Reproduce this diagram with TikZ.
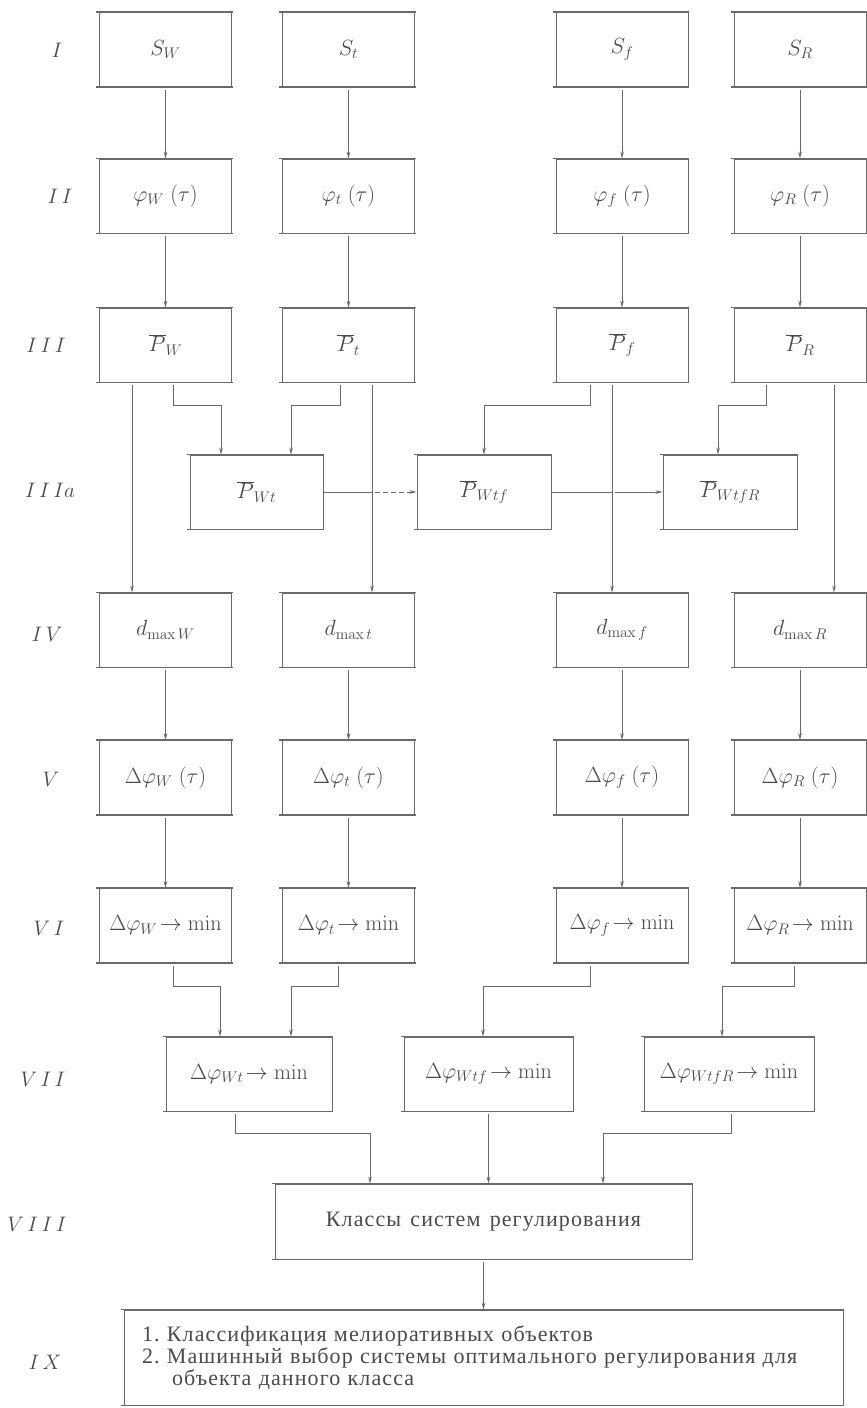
\RequirePackage{fix-cm}
\documentclass[tikz,border=0pt]{standalone}
\usepackage[no-math]{fontspec}
\newfontfamily\rus[LetterSpace=5,WordSpace=1.4]{Liberation Serif}
\usetikzlibrary{arrows.meta}
\definecolor{ink}{HTML}{6A6A6A}
\definecolor{txt}{HTML}{4A4A4A}
\tikzset{
  blk/.style={draw=ink, line width=0.8pt, minimum width=132pt, minimum height=74pt,
    inner sep=0pt, text=txt, font=\fontsize{22}{26}\selectfont},
  hbar/.style={draw=ink, line width=1.5pt},
  conn/.style={draw=ink, line width=0.8pt, shorten <=3pt, -{Stealth[length=7pt,width=3.6pt]}},
  wire/.style={draw=ink, line width=0.8pt, shorten <=3pt},
  dwire/.style={draw=ink, line width=0.8pt, dashed, dash pattern=on 5pt off 3pt, -{Stealth[length=7pt,width=3.6pt]}},
  lbl/.style={text=txt, font=\fontsize{21}{24}\selectfont},
  rtext/.style={text=txt, font=\rus\fontsize{22}{21.8}\selectfont},
}
\newcommand\hbars[1]{\draw[hbar] ([xshift=-3pt]#1.north west) -- ([xshift=1pt]#1.north east)
  ([xshift=-3pt]#1.south west) -- ([xshift=1pt]#1.south east);}
\begin{document}
\begin{tikzpicture}[x=1pt,y=-1pt]
\fill[white] (0,0) rectangle (867,1408);
\useasboundingbox (0,0) rectangle (867,1408);

% row labels
\node[lbl] (l1) at (57,50) {$I$};
\node[lbl] (l2) at (60,196) {$I\,I$};
\node[lbl] (l3) at (46,345) {$I\,I\,I$};
\node[lbl] (l3a) at (50,490) {$I\,I\,Ia$};
\node[lbl] (l4) at (47,634) {$I\,V$};
\node[lbl] (l5) at (51,779) {$V$};
\node[lbl] (l6) at (49,928) {$V\,I$};
\node[lbl] (l7) at (43,1079) {$V\,I\,I$};
\node[lbl] (l8) at (37,1224) {$V\,I\,I\,I$};
\node[lbl] (l9) at (45,1362) {$I\,X$};

% row I
\node[blk] (sw) at (165.5,49.5) {$S_{W}$};
\node[blk] (st) at (348.5,49.5) {$S_{t}$};
\node[blk] (sf) at (622,49.5) {$S_{f}$};
\node[blk] (sr) at (800,49.5) {$S_{R}$};
% row II
\node[blk] (fw) at (165.5,196) {$\varphi_{W}\;(\tau)$};
\node[blk] (ft) at (348.5,196) {$\varphi_{t}\;(\tau)$};
\node[blk] (ff) at (622,196) {$\varphi_{f}\;(\tau)$};
\node[blk] (fr) at (800,196) {$\varphi_{R}\;(\tau)$};
% row III
\node[blk] (pw) at (165.5,345) {$\overline{P}_{W}$};
\node[blk] (pt) at (348.5,345) {$\overline{P}_{t}$};
\node[blk] (pf) at (622,345) {$\overline{P}_{f}$};
\node[blk] (pr) at (800,345) {$\overline{P}_{R}$};
% row IIIa
\node[blk, minimum width=133pt] (pwt) at (256.5,492) {$\overline{P}_{Wt}$};
\node[blk, minimum width=134pt] (pwtf) at (484,492) {$\overline{P}_{Wtf}$};
\node[blk, minimum width=134pt] (pwtfr) at (730,492) {$\overline{P}_{WtfR}$};
% row IV
\node[blk] (dw) at (165.5,630) {$d_{\mathrm{max}\,W}$};
\node[blk] (dt) at (348.5,630) {$d_{\mathrm{max}\,t}$};
\node[blk] (df) at (622,630) {$d_{\mathrm{max}\,f}$};
\node[blk] (dr) at (800,630) {$d_{\mathrm{max}\,R}$};
% row V
\node[blk] (ew) at (165.5,777.5) {$\Delta\varphi_{W}\;(\tau)$};
\node[blk] (et) at (348.5,777.5) {$\Delta\varphi_{t}\;(\tau)$};
\node[blk] (ef) at (622,777.5) {$\Delta\varphi_{f}\;(\tau)$};
\node[blk] (er) at (800,777.5) {$\Delta\varphi_{R}\;(\tau)$};
% row VI
\node[blk] (mw) at (165.5,925.5) {$\Delta\varphi_{W}\!\to\min$};
\node[blk] (mt) at (348.5,925.5) {$\Delta\varphi_{t}\!\to\min$};
\node[blk] (mf) at (622,925.5) {$\Delta\varphi_{f}\!\to\min$};
\node[blk] (mr) at (800,925.5) {$\Delta\varphi_{R}\!\to\min$};
% row VII
\node[blk, minimum width=166pt] (vwt) at (249,1074) {$\Delta\varphi_{Wt}\!\to\min$};
\node[blk, minimum width=169pt] (vwtf) at (488.5,1074) {$\Delta\varphi_{Wtf}\!\to\min$};
\node[blk, minimum width=170pt] (vwtfr) at (729,1074) {$\Delta\varphi_{WtfR}\!\to\min$};
% row VIII
\node[blk, minimum width=417pt, minimum height=75pt, rtext] (cls) at (483.5,1221.5) {Классы систем регулирования};
% row IX
\node[blk, minimum width=719pt, minimum height=95pt, rtext, text width=683pt, align=left] (ix) at (483.5,1357.5)
  {1.~Классификация мелиоративных объектов\\
   2.~Машинный выбор системы оптимального регулирования для\\
   \hspace*{30pt}объекта данного класса};

\foreach \n in {sw,st,sf,sr,fw,ft,ff,fr,pw,pt,pf,pr,pwt,pwtf,pwtfr,dw,dt,df,dr,ew,et,ef,er,mw,mt,mf,mr,vwt,vwtf,vwtfr,cls,ix}{\hbars{\n}}

% straight vertical arrows
\foreach \a/\b in {sw/fw,st/ft,sf/ff,sr/fr,fw/pw,ft/pt,ff/pf,fr/pr,dw/ew,dt/et,df/ef,dr/er,ew/mw,et/mt,ef/mf,er/mr}{
  \draw[conn] (\a.south) -- (\b.north);}

% III -> IV long lines
\coordinate (lw) at ([xshift=-33.5pt]pw.south);
\coordinate (lt) at ([xshift=23.5pt]pt.south);
\coordinate (lf) at ([xshift=-10pt]pf.south);
\coordinate (lr) at ([xshift=34pt]pr.south);
\draw[conn] (lw) -- (lw |- dw.north);
\draw[conn] (lt) -- (lt |- dt.north);
\draw[conn] (lf) -- (lf |- df.north);
\draw[conn] (lr) -- (lr |- dr.north);

% III -> IIIa
\draw[conn] ([xshift=7.5pt]pw.south) -- ++(0,23) -| ([xshift=-35.5pt]pwt.north);
\draw[conn] ([xshift=-8.5pt]pt.south) -- ++(0,23) -| ([xshift=34.5pt]pwt.north);
\draw[conn] ([xshift=-32pt]pf.south) -- ++(0,23) -| (pwtf.north);
\draw[conn] ([xshift=-34pt]pr.south) -- ++(0,23) -| ([xshift=-12pt]pwtfr.north);

% IIIa horizontals
\coordinate (c1) at (lt |- pwt.east);
\coordinate (c2) at (lf |- pwtf.east);
\draw[wire, shorten <=0pt] (pwt.east) -- (c1);
\draw[dwire] ([xshift=3pt]c1) -- (pwtf.west);
\draw[wire, shorten <=0pt] (pwtf.east) -- (c2);
\draw[conn] (c2) -- (pwtfr.west);

% VI -> VII
\draw[conn] ([xshift=7.5pt]mw.south) -- ++(0,23) -| ([xshift=-29pt]vwt.north);
\draw[conn] ([xshift=-10.5pt]mt.south) -- ++(0,23) -| ([xshift=42pt]vwt.north);
\draw[conn] ([xshift=-32pt]mf.south) -- ++(0,23) -| ([xshift=-5.5pt]vwtf.north);
\draw[conn] ([xshift=-6pt]mr.south) -- ++(0,23) -| ([xshift=-7pt]vwtfr.north);

% VII -> VIII
\draw[conn] ([xshift=-14pt]vwt.south) -- ++(0,22) -| ([xshift=-113.5pt]cls.north);
\draw[conn] (vwtf.south) -- (vwtf.south |- cls.north);
\draw[conn] ([xshift=2pt]vwtfr.south) -- ++(0,22) -| ([xshift=119.5pt]cls.north);

% VIII -> IX
\draw[conn] (cls.south) -- (ix.north);
\end{tikzpicture}
\end{document}
